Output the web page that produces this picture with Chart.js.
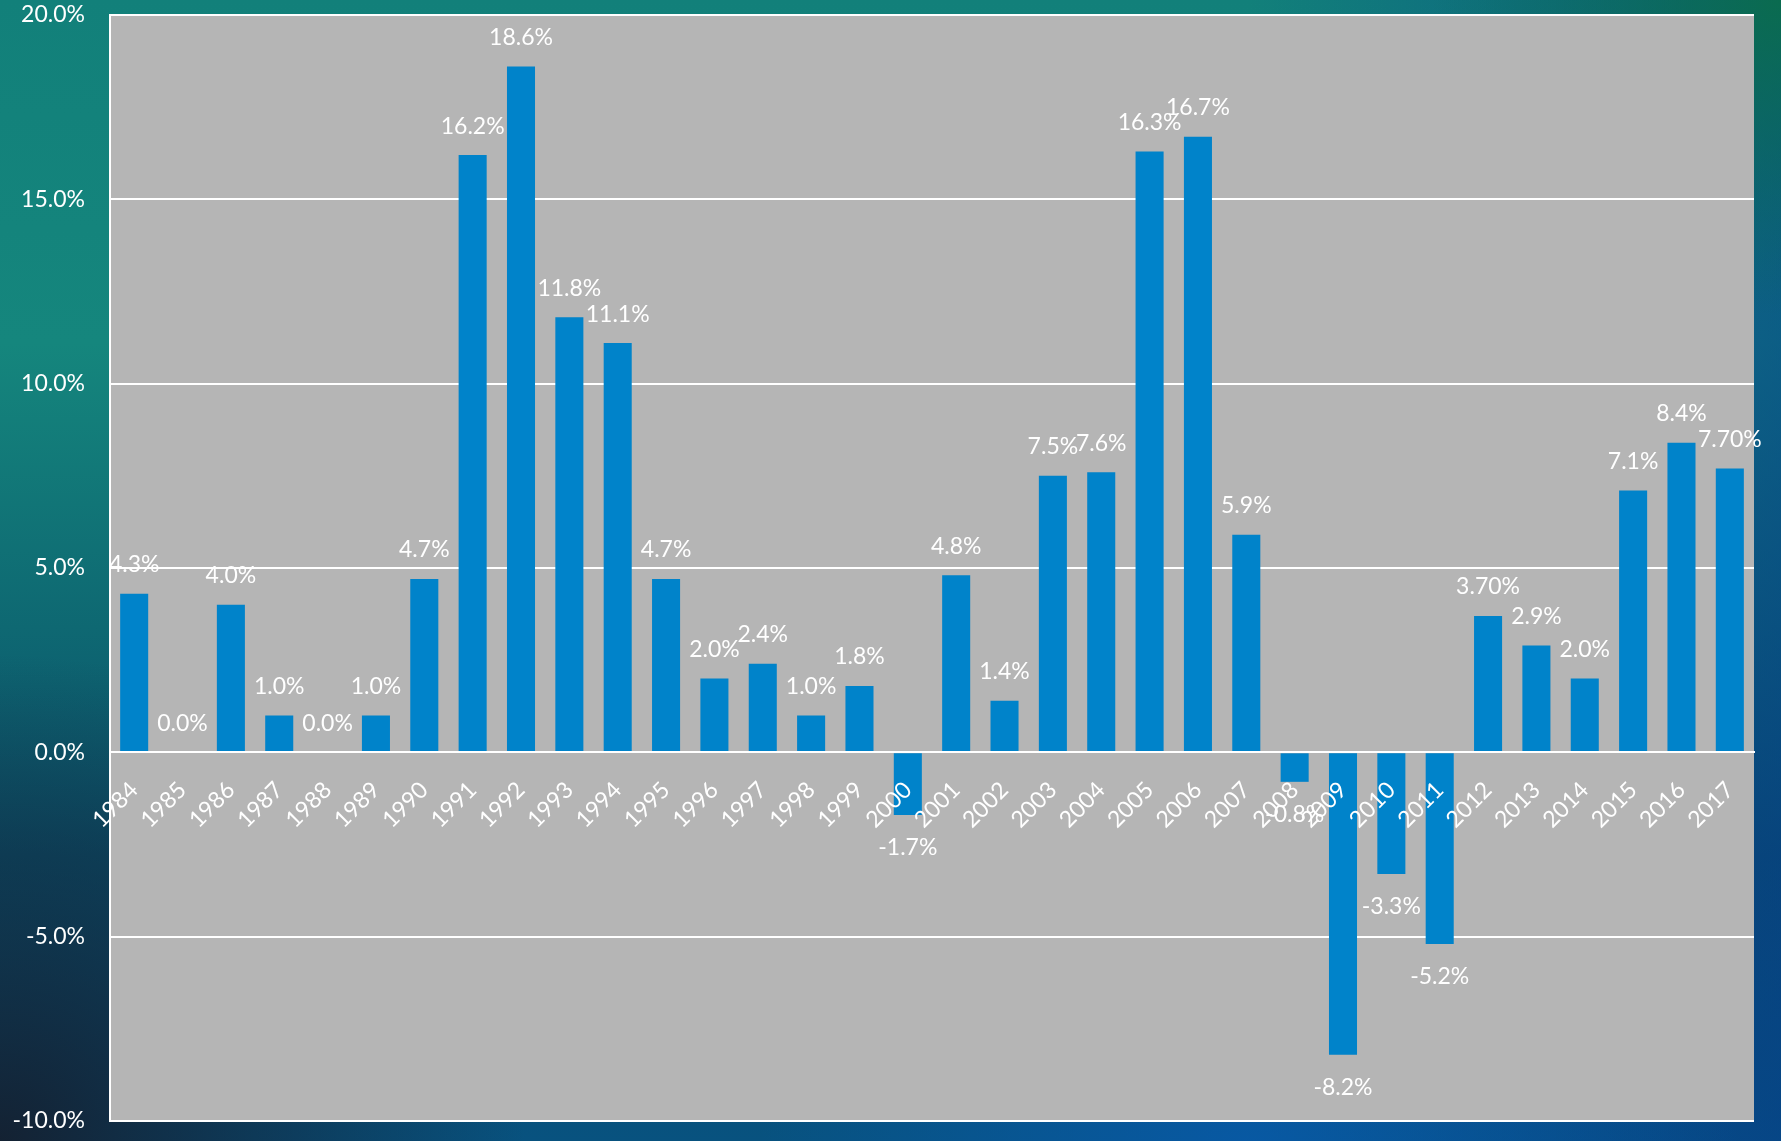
<!DOCTYPE html>
<html>
<head>
<meta charset="utf-8">
<script src="https://cdn.jsdelivr.net/npm/chart.js@4/dist/chart.umd.min.js"></script>
<style>
  html, body { margin: 0; padding: 0; width: 1781px; height: 1141px; overflow: hidden; }
  body {
    background:
      radial-gradient(ellipse 700px 500px at 1250px 1150px, rgba(8,90,170,0.85), rgba(8,90,170,0) 70%),
      radial-gradient(ellipse 500px 450px at 1781px 0px, rgba(10,110,70,0.85), rgba(10,110,70,0) 70%),
      radial-gradient(ellipse 700px 650px at 0px 1141px, rgba(20,32,48,0.97), rgba(20,32,48,0) 75%),
      linear-gradient(90deg, rgba(0,0,0,0) 70%, rgba(5,60,140,0.55) 100%),
      linear-gradient(180deg, #12807a 0%, #15867d 30%, #0e6872 55%, #0a4d6a 75%, #08527f 100%);
  }
  #wrap { position: absolute; left: 0; top: 0; width: 1781px; height: 1141px; }
</style>
</head>
<body>
<div id="wrap"><canvas id="c" width="1781" height="1141"></canvas></div>
<script>
const years = ['1984','1985','1986','1987','1988','1989','1990','1991','1992','1993','1994','1995','1996','1997','1998','1999','2000','2001','2002','2003','2004','2005','2006','2007','2008','2009','2010','2011','2012','2013','2014','2015','2016','2017'];
const growth = [4.3, 0.0, 4.0, 1.0, 0.0, 1.0, 4.7, 16.2, 18.6, 11.8, 11.1, 4.7, 2.0, 2.4, 1.0, 1.8, -1.7, 4.8, 1.4, 7.5, 7.6, 16.3, 16.7, 5.9, -0.8, -8.2, -3.3, -5.2, 3.7, 2.9, 2.0, 7.1, 8.4, 7.7];
const valueLabels = ['4.3%','0.0%','4.0%','1.0%','0.0%','1.0%','4.7%','16.2%','18.6%','11.8%','11.1%','4.7%','2.0%','2.4%','1.0%','1.8%','-1.7%','4.8%','1.4%','7.5%','7.6%','16.3%','16.7%','5.9%','-0.8%','-8.2%','-3.3%','-5.2%','3.70%','2.9%','2.0%','7.1%','8.4%','7.70%'];
const yTicks = [-10, -5, 0, 5, 10, 15, 20];

const FONT = "Lato, 'Open Sans', sans-serif";

const plotBg = {
  id: 'plotBg',
  beforeDraw(chart) {
    const {ctx, chartArea: a} = chart;
    ctx.save();
    ctx.fillStyle = '#b5b5b5';
    ctx.fillRect(a.left, a.top, a.right - a.left, a.bottom - a.top);
    ctx.restore();
  }
};

const barLabels = {
  id: 'barLabels',
  afterDatasetsDraw(chart) {
    const {ctx} = chart;
    const meta = chart.getDatasetMeta(0);
    ctx.save();
    ctx.fillStyle = '#ffffff';
    ctx.font = '23px ' + FONT;
    ctx.textAlign = 'center';
    ctx.textBaseline = 'middle';
    meta.data.forEach((bar, i) => {
      const v = growth[i];
      const y = v >= 0 ? bar.y - 29 : bar.y + 33;
      ctx.fillText(valueLabels[i], bar.x, y);
    });
    ctx.restore();
  }
};

new Chart(document.getElementById('c'), {
  type: 'bar',
  data: {
    labels: years,
    datasets: [{
      data: growth,
      backgroundColor: '#0083ca',
      borderWidth: 0,
      barPercentage: 0.58,
      categoryPercentage: 1.0
    }]
  },
  options: {
    responsive: false,
    animation: false,
    layout: { padding: { left: 0, right: 27, top: 15, bottom: 20 } },
    plugins: { legend: { display: false }, tooltip: { enabled: false } },
    scales: {
      x: {
        position: { y: 0 },
        grid: { display: false, drawTicks: false },
        border: { display: true, color: '#ffffff', width: 2, z: 1 },
        ticks: {
          z: 1,
          color: '#ffffff',
          font: { size: 23, family: FONT },
          minRotation: 45,
          maxRotation: 45,
          autoSkip: false,
          padding: 24
        }
      },
      y: {
        min: -10,
        max: 20,
        afterFit(scale) { scale.width = 110; scale.paddingTop = 0; scale.paddingBottom = 0; },
        afterBuildTicks(scale) { scale.ticks = yTicks.map(v => ({ value: v })); },
        grid: { color: '#ffffff', lineWidth: 2, drawTicks: false },
        border: { display: true, color: '#ffffff', width: 2 },
        ticks: {
          color: '#ffffff',
          font: { size: 23, family: FONT },
          padding: 25,
          callback: (v) => v.toFixed(1) + '%'
        }
      }
    }
  },
  plugins: [plotBg, barLabels]
});
</script>
</body>
</html>
